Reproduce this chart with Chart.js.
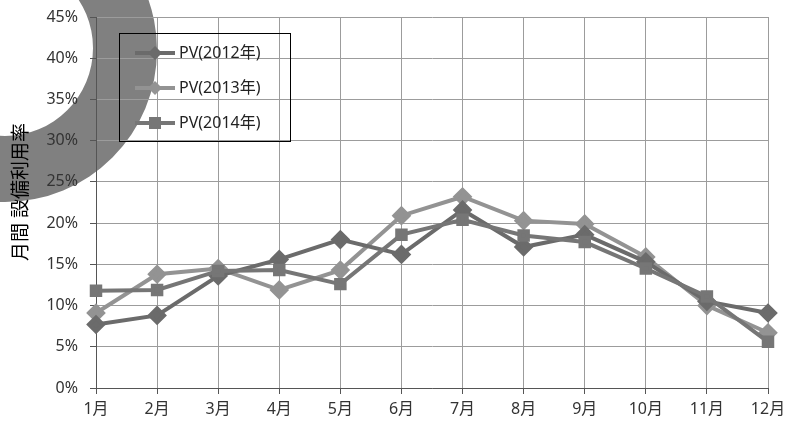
<!DOCTYPE html>
<html>
<head>
<meta charset="utf-8">
<script src="https://cdn.jsdelivr.net/npm/chart.js@4"></script>
<style>
  body { margin: 0; background: #fff; }
  #wrap { width: 786px; height: 424px; position: relative; }
</style>
</head>
<body>
<div id="wrap"><canvas id="pvChart"></canvas></div>
<script>
// months on the x axis
const months = ['1月', '2月', '3月', '4月', '5月', '6月', '7月', '8月', '9月', '10月', '11月', '12月'];
// monthly capacity factor (%) per year
const pv2012 = [7.7, 8.8, 13.6, 15.6, 18.0, 16.2, 21.6, 17.1, 18.6, 15.3, 10.5, 9.1];
const pv2013 = [9.1, 13.8, 14.5, 11.9, 14.3, 20.9, 23.2, 20.3, 19.9, 15.9, 10.0, 6.7];
const pv2014 = [11.8, 11.9, 14.2, 14.3, 12.6, 18.6, 20.4, 18.5, 17.7, 14.5, 11.1, 5.6];
const seriesNames = ['PV(2012年)', 'PV(2013年)', 'PV(2014年)'];
const yTitle = '月間 設備利用率';

const FONT = "'Noto Sans', 'Noto Sans CJK JP', sans-serif";

// grey ring behind the top-left corner
const ringPlugin = {
  id: 'ring',
  beforeDraw(chart) {
    const c = chart.ctx;
    c.save();
    c.fillStyle = '#808080';
    c.beginPath();
    c.arc(5, 50, 152, 0, Math.PI * 2);
    c.arc(5, 48, 88, 0, Math.PI * 2, true);
    c.fill('evenodd');
    c.restore();
  }
};

// boxed legend inside the plot, top-left, plus the vertical axis title
const boxLegend = {
  id: 'boxLegend',
  afterDraw(chart) {
    const c = chart.ctx;
    c.save();
    c.strokeStyle = '#000';
    c.lineWidth = 1;
    c.strokeRect(119.5, 33.5, 171, 108);
    const rows = [53, 88, 123];
    chart.data.datasets.forEach((ds, i) => {
      const y = rows[i];
      c.strokeStyle = ds.borderColor;
      c.lineWidth = 4;
      c.beginPath();
      c.moveTo(135, y);
      c.lineTo(175, y);
      c.stroke();
      c.fillStyle = ds.pointBackgroundColor;
      if (ds.pointStyle === 'rect') {
        c.fillRect(149, y - 6, 12, 12);
      } else {
        c.beginPath();
        c.moveTo(155, y - 7);
        c.lineTo(162, y);
        c.lineTo(155, y + 7);
        c.lineTo(148, y);
        c.closePath();
        c.fill();
      }
      c.fillStyle = '#222';
      c.font = '16px ' + FONT;
      c.textBaseline = 'middle';
      c.fillText(ds.label, 179, y);
    });

    // axis title
    c.translate(22, 192);
    c.rotate(-Math.PI / 2);
    c.fillStyle = '#000';
    c.font = '19px ' + FONT;
    c.textAlign = 'center';
    c.textBaseline = 'middle';
    c.fillText(yTitle, 0, 0);
    c.restore();
  }
};

new Chart(document.getElementById('pvChart'), {
  type: 'line',
  data: {
    labels: months,
    datasets: [
      {
        label: seriesNames[0], data: pv2012,
        borderColor: '#6b6b6b', pointBackgroundColor: '#6b6b6b', pointBorderColor: '#6b6b6b',
        borderWidth: 4, pointStyle: 'rectRot', pointRadius: 7, order: 2
      },
      {
        label: seriesNames[1], data: pv2013,
        borderColor: '#939393', pointBackgroundColor: '#939393', pointBorderColor: '#939393',
        borderWidth: 4, pointStyle: 'rectRot', pointRadius: 7, order: 3
      },
      {
        label: seriesNames[2], data: pv2014,
        borderColor: '#767676', pointBackgroundColor: '#767676', pointBorderColor: '#767676',
        borderWidth: 4, pointStyle: 'rect', pointRadius: 6, order: 1
      }
    ]
  },
  options: {
    responsive: true,
    maintainAspectRatio: false,
    animation: false,
    layout: { padding: { top: 17, right: 18, left: 0, bottom: 0 } },
    plugins: {
      legend: { display: false },
      tooltip: { enabled: false }
    },
    scales: {
      x: {
        offset: false,
        grid: { color: '#9c9c9c', tickLength: 6, tickColor: '#555' },
        border: { color: '#555' },
        ticks: { color: '#333', padding: 6, font: { size: 16, family: FONT }, maxRotation: 0 },
        afterFit(scale) {
          scale.height = 36;
          scale.paddingLeft = 0;
          scale.paddingRight = 0;
        }
      },
      y: {
        min: 0, max: 45,
        grid: { color: '#9c9c9c', tickLength: 6, tickColor: '#555' },
        border: { color: '#555' },
        ticks: {
          stepSize: 5, color: '#333', padding: 12,
          font: { size: 16, family: FONT },
          callback: v => v + '%'
        },
        afterFit(scale) {
          scale.width = 96;
          scale.paddingTop = 0;
          scale.paddingBottom = 0;
        }
      }
    }
  },
  plugins: [ringPlugin, boxLegend]
});
</script>
</body>
</html>
